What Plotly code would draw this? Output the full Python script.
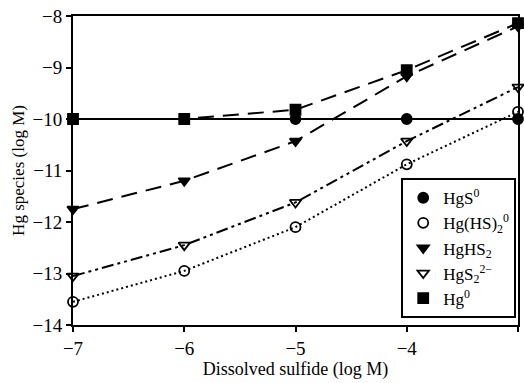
import plotly.graph_objects as go

x = [-7, -6, -5, -4, -3]
hgs0 = [-10, -10, -10, -10, -10]
hg_hs2_0 = [-13.55, -12.95, -12.1, -10.88, -9.86]
hghs2 = [-11.75, -11.2, -10.43, -9.17, -8.2]
hgs2_2m = [-13.05, -12.45, -11.62, -10.43, -9.38]
hg0 = [-10, -10, -9.82, -9.05, -8.14]

names = ["HgS<sup>0</sup>", "Hg(HS)<sub>2</sub><sup>0</sup>", "HgHS<sub>2</sub>",
         "HgS<sub>2</sub><sup>2−</sup>", "Hg<sup>0</sup>"]

fig = go.Figure()
series = [
    (hgs0, names[0], "circle", "solid"),
    (hg_hs2_0, names[1], "circle-open", "2px,3px"),
    (hghs2, names[2], "triangle-down", "16px,9px"),
    (hgs2_2m, names[3], "triangle-down-open", "12px,4px,3px,4px,3px,4px"),
    (hg0, names[4], "square", "16px,9px"),
]
for ys, nm, sym, dash in series:
    fig.add_trace(go.Scatter(
        x=x, y=ys, name=nm, mode="lines",
        line=dict(color="black", width=2, dash=dash),
        showlegend=False, cliponaxis=False, hoverinfo="skip"))
for ys, nm, sym, dash in series:
    fig.add_trace(go.Scatter(
        x=x, y=ys, name=nm, mode="markers",
        marker=dict(symbol=sym, size=10, color="black",
                    line=dict(color="black", width=1.8)),
        cliponaxis=False))

font = "Liberation Serif, Times New Roman, serif"
fig.update_layout(
    width=524, height=383,
    margin=dict(l=73, r=4, t=16, b=58),
    paper_bgcolor="white", plot_bgcolor="white",
    font=dict(family=font, size=18, color="black"),
    showlegend=True,
    legend=dict(x=0.996, y=0.022, xanchor="right", yanchor="bottom",
                bordercolor="black", borderwidth=2, bgcolor="white",
                font=dict(size=17, family=font), itemwidth=30,
                tracegroupgap=0, traceorder="normal"),
    xaxis=dict(range=[-7, -3], tickvals=[-7, -6, -5, -4, -3],
               ticktext=["−7", "−6", "−5", "−4", "−3"],
               showgrid=False, zeroline=False, showline=True, linecolor="black",
               linewidth=2, mirror=True, ticks="outside", ticklen=5,
               tickcolor="black", tickwidth=2, tickfont=dict(size=19),
               title=dict(text="Dissolved sulfide (log M)", standoff=3,
                          font=dict(size=18))),
    yaxis=dict(range=[-14, -8], tickvals=[-14, -13, -12, -11, -10, -9, -8],
               ticktext=["−14", "−13", "−12", "−11", "−10", "−9", "−8"],
               showgrid=False, zeroline=False, showline=True, linecolor="black",
               linewidth=2, mirror=True, ticks="outside", ticklen=5,
               tickcolor="black", tickwidth=2, tickfont=dict(size=19),
               title=dict(text="Hg species (log M)", standoff=4,
                          font=dict(size=17))),
)
fig.write_html("out.html")
